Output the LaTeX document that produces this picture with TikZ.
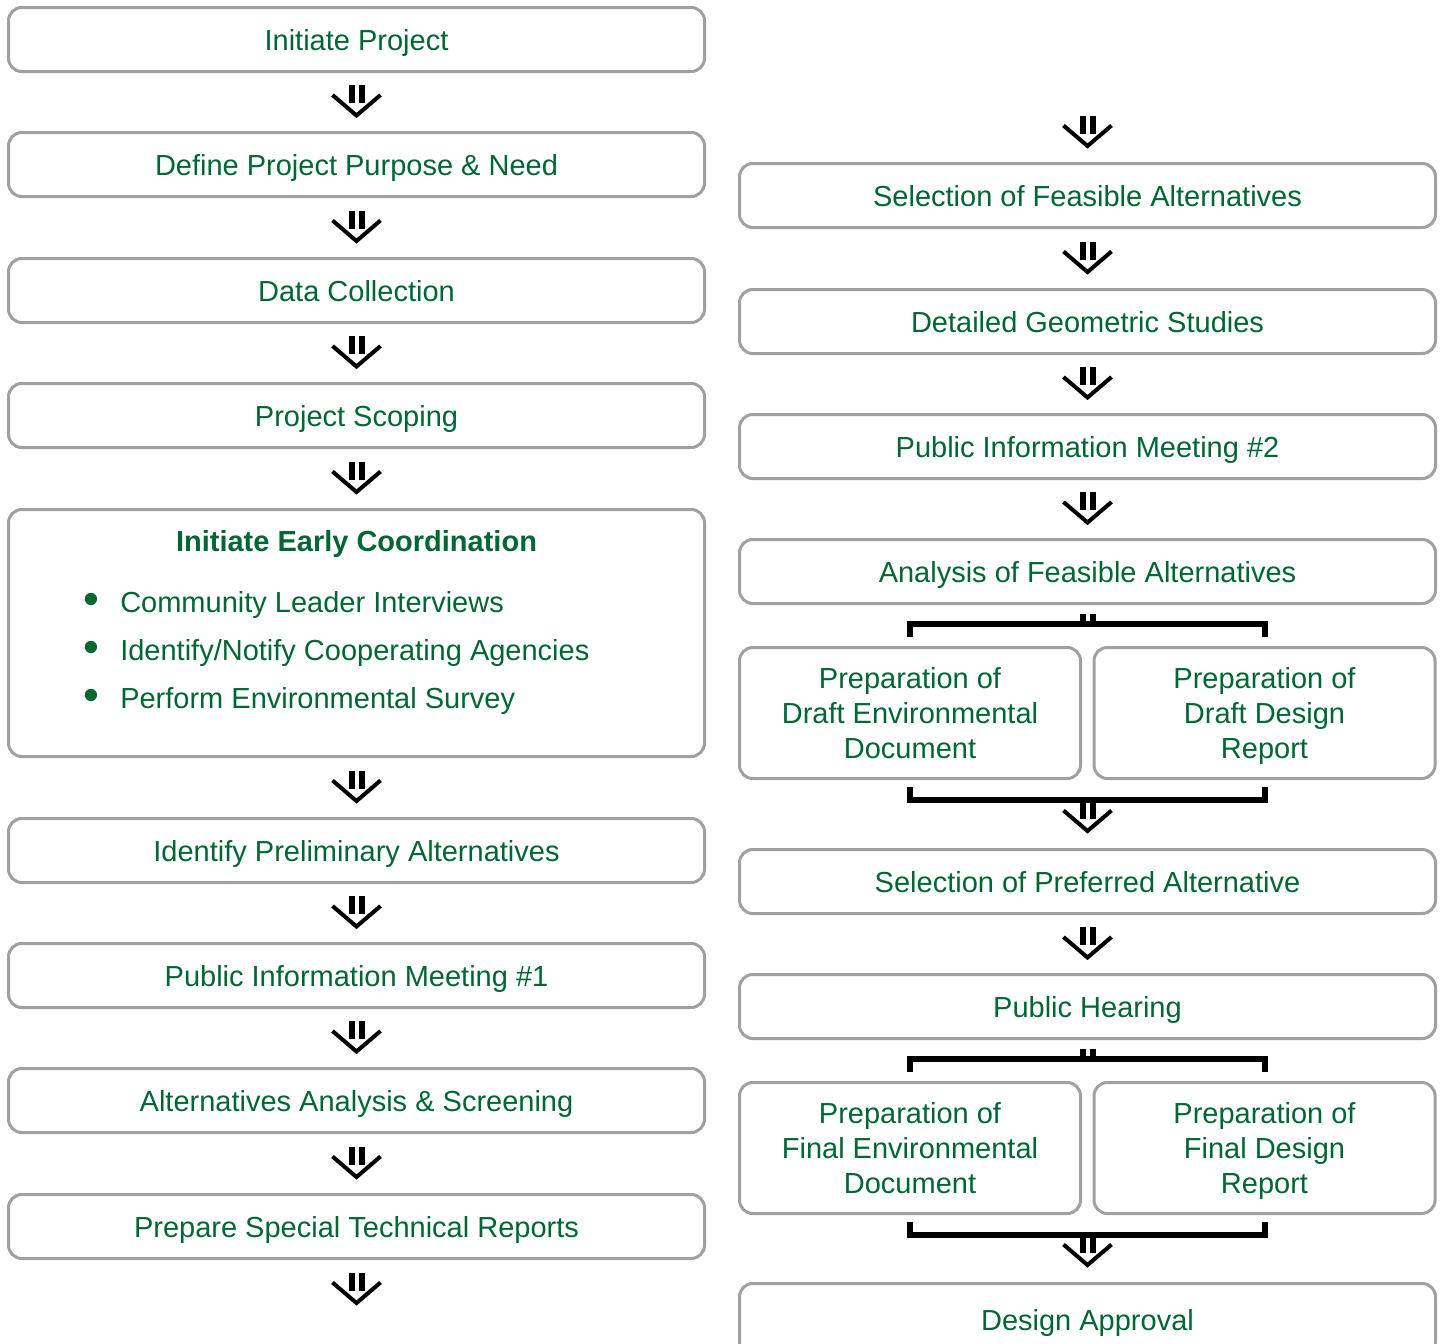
\documentclass[tikz,border=0pt]{standalone}
\usepackage{fontspec}
\setmainfont{Liberation Sans}
\usetikzlibrary{calc, positioning}
\definecolor{txtgreen}{RGB}{0,102,51}
\definecolor{boxgray}{RGB}{160,160,160}
\newcommand{\boxfont}{\fontsize{21.75}{25.9}\selectfont}

\tikzset{
  box/.style={draw=boxgray, line width=2.25pt, rounded corners=10pt,
    minimum width=522pt, minimum height=48pt, inner sep=0pt, text depth=0pt,
    text=txtgreen, font=\boxfont, align=center},
  halfbox/.style={box, minimum width=255.75pt, minimum height=98.25pt},
  bigbox/.style={box, minimum height=185.25pt},
  item/.style={text=txtgreen, font=\boxfont, inner sep=0pt},
  bracket/.style={line width=4.5pt},
  % double shaft with open head
  dnarrow/.pic={
    \fill (-8,-17) rectangle (-2,1);
    \fill (2,-17) rectangle (8,1);
    \draw[line width=3pt, miter limit=10] (-24,-7) -- (0,13.5) -- (24,-7);
  },
  shaft/.pic={
    \fill (-8,0) rectangle (-2,11);
    \fill (2,0) rectangle (8,11);
  }
}

\begin{document}
\begin{tikzpicture}[x=0.75pt, y=-0.75pt]
  \useasboundingbox (0,0) rectangle (1443,1343);

  % left column
  \node[box] (ip)   at (356.5,39.5)   {Initiate Project};
  \node[box] (dpn)  at (356.5,164.5)  {Define Project Purpose \& Need};
  \node[box] (dc)   at (356.5,290.5)  {Data Collection};
  \node[box] (ps)   at (356.5,415.5)  {Project Scoping};
  \node[bigbox] (iec) at (356.5,633)  {};
  \node[box] (ipa)  at (356.5,850.5)  {Identify Preliminary Alternatives};
  \node[box] (pim1) at (356.5,975.5)  {Public Information Meeting \#1};
  \node[box] (aas)  at (356.5,1100.5) {Alternatives Analysis \& Screening};
  \node[box] (pst)  at (356.5,1226.5) {Prepare Special Technical Reports};

  \node[item, font=\boxfont\bfseries] (iect) at (356.5,544) {Initiate Early Coordination};
  \node[item, font=\fontsize{34}{34}\selectfont] (dot1) at (91,604) {•};
  \node[item, font=\fontsize{34}{34}\selectfont] (dot2) at (91,652) {•};
  \node[item, font=\fontsize{34}{34}\selectfont] (dot3) at (91,700) {•};
  \node[item, anchor=west] (cli) at (120,605) {Community Leader Interviews};
  \node[item, anchor=west] (inc) at (120,653) {Identify/Notify Cooperating Agencies};
  \node[item, anchor=west] (pes) at (120,701) {Perform Environmental Survey};

  % right column
  \node[box] (sfa)  at (1087.5,195.5) {Selection of Feasible Alternatives};
  \node[box] (dgs)  at (1087.5,321.5) {Detailed Geometric Studies};
  \node[box] (pim2) at (1087.5,446.5) {Public Information Meeting \#2};
  \node[box] (afa)  at (1087.5,571.5) {Analysis of Feasible Alternatives};
  \node[halfbox] (pde) at (910,713)    {Preparation of\\Draft Environmental\\Document};
  \node[halfbox] (pdr) at (1264.5,713) {Preparation of\\Draft Design\\Report};
  \node[box] (spa)  at (1087.5,881.5)  {Selection of Preferred Alternative};
  \node[box] (ph)   at (1087.5,1006.5) {Public Hearing};
  \node[halfbox] (pfe) at (910,1148)    {Preparation of\\Final Environmental\\Document};
  \node[halfbox] (pfr) at (1264.5,1148) {Preparation of\\Final Design\\Report};
  \node[box, minimum height=54pt] (da) at (1087.5,1319.5) {Design Approval};

  % arrows
  \foreach \a/\b in {ip/dpn, dpn/dc, dc/ps, ps/iec, iec/ipa, ipa/pim1, pim1/aas, aas/pst,
                     sfa/dgs, dgs/pim2, pim2/afa, spa/ph}
    \pic at ($(\a.south)!.5!(\b.north)$) {dnarrow};
  \coordinate (lend) at ($(pst.south)+(0,29.5)$);
  \coordinate (rtop) at ($(sfa.north)+(0,-29.5)$);
  \pic at (lend) {dnarrow};
  \pic at (rtop) {dnarrow};

  % brackets
  \pic at ($(afa.south)+(0,8.5)$) {shaft};
  \draw[bracket] ($(pde.north)+(0,-9.5)$) |- ($(pdr.north)+(0,-22)$) -- ($(pdr.north)+(0,-9.5)$);
  \draw[bracket] ($(pde.south)+(0,6.5)$) |- ($(pdr.south)+(0,20)$) -- ($(pdr.south)+(0,6.5)$);
  \pic at ($(spa.north)+(0,-30.5)$) {dnarrow};

  \pic at ($(ph.south)+(0,8.5)$) {shaft};
  \draw[bracket] ($(pfe.north)+(0,-9.5)$) |- ($(pfr.north)+(0,-22)$) -- ($(pfr.north)+(0,-9.5)$);
  \draw[bracket] ($(pfe.south)+(0,6.5)$) |- ($(pfr.south)+(0,20)$) -- ($(pfr.south)+(0,6.5)$);
  \pic at ($(da.north)+(0,-30.5)$) {dnarrow};
\end{tikzpicture}
\end{document}
